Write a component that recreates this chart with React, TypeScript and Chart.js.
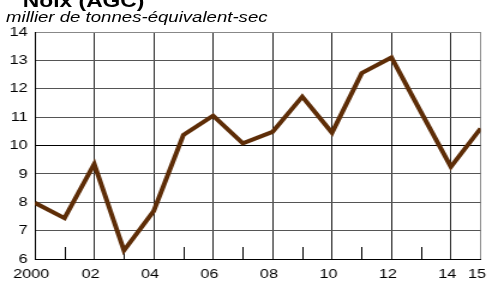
import { useEffect, useRef } from 'react';
import { Chart, registerables } from 'chart.js';

Chart.register(...registerables);

const titleText = 'Noix (AGC)';
const subtitleText = 'millier de tonnes-équivalent-sec';

const years = [2000, 2001, 2002, 2003, 2004, 2005, 2006, 2007, 2008, 2009, 2010, 2011, 2012, 2013, 2014, 2015];
const values = [7.98, 7.44, 9.35, 6.3, 7.69, 10.37, 11.05, 10.08, 10.48, 11.72, 10.45, 12.55, 13.1, 11.17, 9.25, 10.6];

const xTickLabels: Record<number, string> = {
  2000: '2000', 2002: '02', 2004: '04', 2006: '06', 2008: '08',
  2010: '10', 2012: '12', 2014: '14', 2015: '15',
};
const minorTickYears = [2001, 2003, 2005, 2007, 2009, 2011, 2013];
const yTicks = [6, 7, 8, 9, 10, 11, 12, 13, 14];

const FONT = '"Liberation Sans", Arial, Helvetica, sans-serif';
const LINE_COLOR = '#5e2d07';
const SCALE_X = 1.2;
const BASE_W = 415;
const H = 281;

const minorTicksPlugin = {
  id: 'minorTicks',
  beforeDatasetsDraw(chart: any) {
    const xs = chart.scales.x;
    const ctx = chart.ctx;
    const bottom = chart.chartArea.bottom;
    ctx.save();
    ctx.strokeStyle = '#000';
    ctx.lineWidth = 1;
    for (const v of minorTickYears) {
      const px = Math.round(xs.getPixelForValue(v)) + 0.5;
      ctx.beginPath();
      ctx.moveTo(px, bottom);
      ctx.lineTo(px, bottom - 12);
      ctx.stroke();
    }
    ctx.restore();
  },
};

export default function App() {
  const ref = useRef<HTMLCanvasElement | null>(null);

  useEffect(() => {
    if (!ref.current) return;
    const chart = new Chart(ref.current, {
      type: 'line',
      data: {
        datasets: [
          {
            data: years.map((y, i) => ({ x: y, y: values[i] })),
            borderColor: LINE_COLOR,
            borderWidth: 4,
            pointRadius: 0,
            tension: 0,
            borderJoinStyle: 'miter',
            fill: false,
          },
        ],
      },
      options: {
        animation: false,
        responsive: false,
        maintainAspectRatio: false,
        layout: { padding: { top: 32, right: 8, left: 0, bottom: 0 } },
        plugins: {
          legend: { display: false },
          tooltip: { enabled: false },
          title: { display: false },
        },
        scales: {
          x: {
            type: 'linear',
            min: years[0],
            max: years[years.length - 1],
            afterBuildTicks(scale: any) {
              scale.ticks = years.map((v) => ({ value: v }));
            },
            afterFit(scale: any) {
              scale.height = 22;
            },
            ticks: {
              autoSkip: false,
              maxRotation: 0,
              padding: 7,
              labelOffset: -3,
              color: '#000',
              font: { family: FONT, size: 13.5 },
              callback: (v: any) => xTickLabels[Number(v)] ?? '',
            },
            grid: {
              drawTicks: false,
              color: (c: any) => {
                const v = c.tick?.value;
                if (v === 2015) return '#888';
                if (v === 2000) return '#000';
                return xTickLabels[v] !== undefined ? '#222' : 'rgba(0,0,0,0)';
              },
              lineWidth: 1,
            },
            border: { color: '#000', width: 1 },
          },
          y: {
            type: 'linear',
            min: yTicks[0],
            max: yTicks[yTicks.length - 1],
            afterBuildTicks(scale: any) {
              scale.ticks = yTicks.map((v) => ({ value: v }));
            },
            afterFit(scale: any) {
              scale.width = 29;
            },
            ticks: {
              padding: 6,
              color: '#000',
              font: { family: FONT, size: 13.5 },
              callback: (v: any) => String(v),
            },
            grid: {
              drawTicks: false,
              color: (c: any) => {
                const v = c.tick?.value;
                if (v === 10) return '#000';
                if (v === 14) return '#888';
                return '#555';
              },
              lineWidth: 1,
            },
            border: { color: '#000', width: 1 },
          },
        },
      },
      plugins: [minorTicksPlugin],
    } as any);
    return () => chart.destroy();
  }, []);

  return (
    <div
      style={{
        position: 'absolute',
        left: 0,
        top: 0,
        width: BASE_W,
        height: H,
        overflow: 'hidden',
        background: '#fff',
        transform: `scaleX(${SCALE_X})`,
        transformOrigin: '0 0',
      }}
    >
      <canvas ref={ref} width={BASE_W} height={H} style={{ position: 'absolute', left: 0, top: 0 }} />
      <div
        style={{
          position: 'absolute',
          left: 19,
          top: -9,
          fontFamily: FONT,
          fontWeight: 'bold',
          fontSize: 19,
          lineHeight: '19px',
          whiteSpace: 'nowrap',
          color: '#000',
        }}
      >
        {titleText}
      </div>
      <div
        style={{
          position: 'absolute',
          left: 5,
          top: 9,
          fontFamily: FONT,
          fontStyle: 'italic',
          fontSize: 15.5,
          lineHeight: '15px',
          whiteSpace: 'nowrap',
          color: '#000',
        }}
      >
        {subtitleText}
      </div>
    </div>
  );
}
